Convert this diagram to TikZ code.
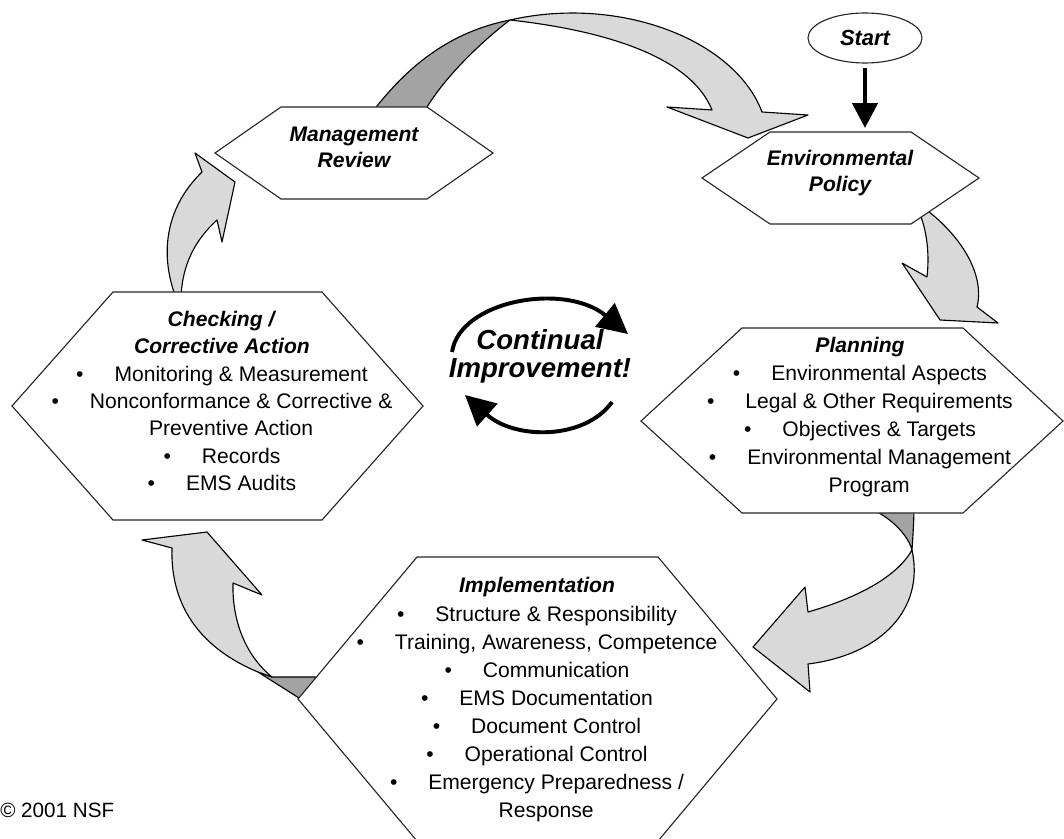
\documentclass[tikz,border=0pt]{standalone}
\usepackage{fontspec}
\setmainfont{Liberation Sans}
\usetikzlibrary{arrows.meta,shapes.geometric}
\definecolor{lightg}{HTML}{D9D9D9}
\definecolor{darkg}{HTML}{A3A3A3}
\newcommand{\bl}{\textbullet\hspace{22pt}}
\begin{document}
\begin{tikzpicture}[x=0.025cm,y=-0.025cm,
  hexa/.style={draw=black!85,line width=0.8pt,fill=white},
  ribbon/.style={draw=black,line width=0.8pt,fill=lightg,line join=round},
  ribbondark/.style={draw=black,line width=0.8pt,fill=darkg,line join=round},
  title/.style={font=\fontsize{15}{18.5}\selectfont\bfseries\itshape,align=center,inner sep=0pt},
  body/.style={font=\fontsize{15}{20}\selectfont,align=center,inner sep=0pt},
  cycarrow/.style={line width=2.8pt,-{Triangle[length=0.75cm,width=0.75cm]}}
]
\useasboundingbox (0,0) rectangle (1064,839);
\clip (0,0) rectangle (1064,839);

% ---- block arrows (behind hexagons)
% Management Review -> Environmental Policy
\path[ribbondark] (374,112) -- (377,106) .. controls (410,65) and (450,32) .. (510,20)
   .. controls (490,35) and (450,70) .. (427,107) -- (430,112) -- cycle;
\path[ribbon] (510,20) .. controls (620,-5) and (735,40) .. (762,112) -- (808,115) -- (748,138)
   -- (667,107) -- (712,110) .. controls (690,55) and (600,30) .. (510,20) -- cycle;
% Environmental Policy -> Planning
\path[ribbon] (920,205) .. controls (962,235) and (985,275) .. (977,307) -- (998,323) -- (940,320)
   -- (902,263) -- (927,277) .. controls (930,250) and (926,225) .. (916,205) -- cycle;
% Planning -> Implementation
\path[ribbondark] (862,505) .. controls (890,515) and (908,535) .. (912,550)
   .. controls (913,535) and (914,520) .. (914,505) -- cycle;
\path[ribbon] (912,550) .. controls (925,610) and (880,655) .. (808,664) -- (810,692) -- (753,647)
   -- (805,587) -- (808,612) .. controls (850,600) and (895,580) .. (912,550) -- cycle;
% Implementation -> Checking
\path[ribbondark] (258,672) .. controls (275,683) and (290,692) .. (305,702) -- (335,677) -- (272,677) -- cycle;
\path[ribbon] (258,672) .. controls (205,650) and (170,610) .. (172,548) -- (142,540) -- (207,532)
   -- (262,595) -- (233,583) .. controls (232,620) and (245,655) .. (272,677) -- cycle;
% Checking -> Management Review
\path[ribbon] (176,298) .. controls (158,250) and (168,205) .. (202,172) -- (195,153) -- (235,182)
   -- (222,242) -- (217,220) .. controls (195,240) and (182,265) .. (181,298) -- cycle;

% ---- hexagons
\path[hexa] (215,153) -- (281,107) -- (427,107) -- (493,153) -- (427,199) -- (281,199) -- cycle;
\path[hexa] (702,178) -- (770,132) -- (911,132) -- (979,178) -- (911,224) -- (770,224) -- cycle;
\path[hexa] (641,421) -- (742,328) -- (963,328) -- (1063,421) -- (963,513) -- (742,513) -- cycle;
\path[hexa] (298,699) -- (417,557) -- (658,557) -- (777,699) -- (658,841) -- (417,841) -- cycle;
\path[hexa] (12,406) -- (113,292) -- (322,292) -- (423,406) -- (322,520) -- (113,520) -- cycle;

% ---- texts
\node[title] (mr) at (354,147) {Management\\Review};
\node[title] (ep) at (840,173) {Environmental\\Policy};
\node[body] (plan) at (860,417) {\textbf{\textit{Planning}}\\
  \bl Environmental Aspects\\
  \bl Legal \& Other Requirements\\
  \bl Objectives \& Targets\\
  \bl Environmental Management\\
  \hspace*{13pt}Program};
\node[body] (impl) at (537,700) {\textbf{\textit{Implementation}}\\
  \bl Structure \& Responsibility\\
  \bl Training, Awareness, Competence\\
  \bl Communication\\
  \bl EMS Documentation\\
  \bl Document Control\\
  \bl Operational Control\\
  \bl Emergency Preparedness /\\
  \hspace*{13pt}Response};
\node[body,font=\fontsize{15}{19.5}\selectfont] (check) at (222,401) {\textbf{\textit{Checking /}}\\
  \textbf{\textit{Corrective Action}}\\
  \bl Monitoring \& Measurement\\
  \bl Nonconformance \& Corrective \&\\
  \hspace*{13pt}Preventive Action\\
  \bl Records\\
  \bl EMS Audits};

% ---- centre
\node[font=\fontsize{19.6}{20}\selectfont\bfseries\itshape,align=center,inner sep=0pt] (ci) at (540,356) {Continual\\Improvement!};
\coordinate (ua) at (452,352);
\coordinate (ub) at (628,334);
\coordinate (la) at (612,402);
\coordinate (lb) at (465,395);
\draw[cycarrow] (ua) .. controls (460,300) and (565,282) .. (ub);
\draw[cycarrow] (la) .. controls (585,440) and (515,440) .. (lb);

% ---- start
\node[draw=black!85,ellipse,line width=0.8pt,minimum width=2.85cm,minimum height=1.25cm,inner sep=0pt,
  font=\fontsize{15.6}{18}\selectfont\bfseries\itshape] (start) at (865,38) {Start};
\coordinate (eptop) at (865,128);
\draw[line width=3.2pt,shorten <=3.5pt,-{Triangle[length=0.62cm,width=0.62cm]}] (start) -- (eptop);

% ---- copyright
\node[anchor=base west,inner sep=0pt,font=\fontsize{14.7}{17}\selectfont] (copy) at (0,817) {© 2001 NSF};
\end{tikzpicture}
\end{document}
